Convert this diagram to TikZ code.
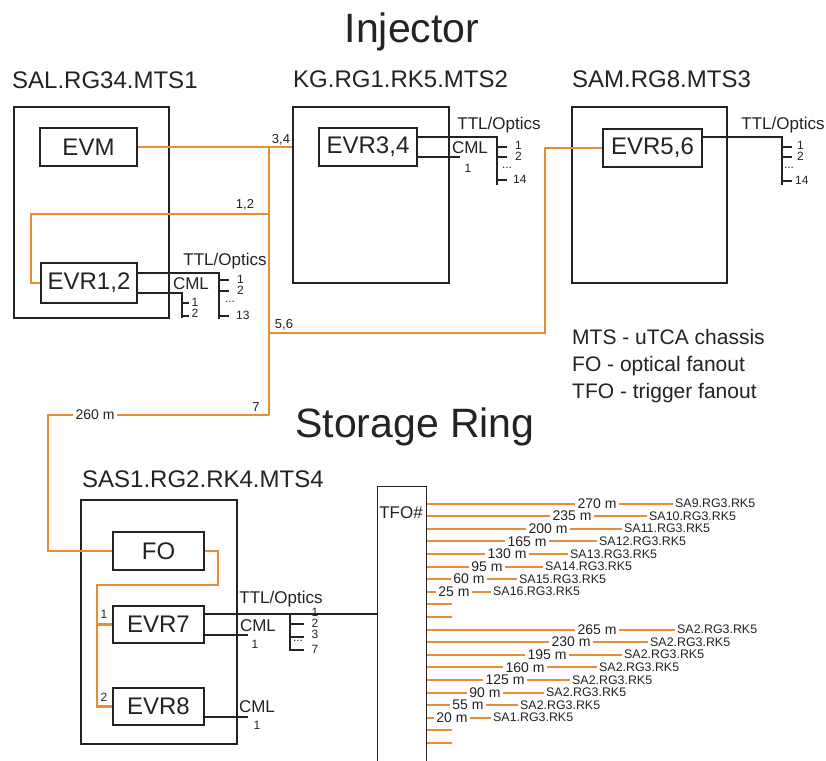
\documentclass[tikz,border=0pt]{standalone}
\usepackage{fontspec}
\setmainfont{Liberation Sans}
\definecolor{org}{RGB}{232,140,58}
\definecolor{ink}{RGB}{35,35,35}
\begin{document}
\begin{tikzpicture}[x=1pt,y=-1pt,
  every node/.style={text=ink},
  box/.style={draw=ink, line width=1.3pt, inner sep=0pt},
  card/.style={draw=ink, line width=1.3pt, inner sep=0pt, font=\fontsize{24}{28}\selectfont},
  fib/.style={draw=org, line width=2.6pt},
  fibrow/.style={draw=org, line width=2pt},
  wire/.style={draw=ink, line width=1.2pt},
  big/.style={font=\fontsize{41}{48}\selectfont, anchor=base},
  ttl/.style={font=\fontsize{24}{28}\selectfont, anchor=base west},
  lab/.style={font=\fontsize{17}{20}\selectfont, inner sep=0pt},
  num/.style={font=\fontsize{12}{14}\selectfont, inner sep=0pt},
  dist/.style={font=\fontsize{14}{16}\selectfont, inner xsep=2.5pt, inner ysep=0pt},
  nm/.style={font=\fontsize{12.4}{14}\selectfont, inner xsep=2pt, inner ysep=0pt, anchor=west},
  leg/.style={font=\fontsize{21}{25}\selectfont, anchor=base west, inner sep=0pt}]
\useasboundingbox (0,0) rectangle (826,760);
\fill[white] (0,0) rectangle (826,760);

% titles
\node[big] (inj) at (412,43) {Injector};
\node[big] (sr) at (415,437) {Storage Ring};
\node[ttl, inner sep=0pt] (t1n) at (12,88) {SAL.RG34.MTS1};
\node[ttl, inner sep=0pt] (t2n) at (293,87) {KG.RG1.RK5.MTS2};
\node[ttl, inner sep=0pt] (t3n) at (572,87) {SAM.RG8.MTS3};
\node[ttl, inner sep=0pt] (t4n) at (82,487) {SAS1.RG2.RK4.MTS4};

% chassis
\node[box, minimum width=155pt, minimum height=211pt] (mts1) at (91.5,212.5) {};
\node[box, minimum width=156pt, minimum height=176pt] (kg) at (371,195) {};
\node[box, minimum width=155pt, minimum height=176pt] (sam) at (649.5,195) {};
\node[box, minimum width=156pt, minimum height=244pt] (mts4) at (159,622) {};
\node[box, minimum width=49pt, minimum height=300pt, anchor=north west] (tfo) at (377,486) {};
\node[lab] (tfol) at (401,513) {TFO\#};

% cards
\node[card, minimum width=97pt, minimum height=38pt] (evm) at (88.5,147) {EVM};
\node[card, minimum width=96pt, minimum height=40pt] (evr12) at (89,283) {EVR1,2};
\node[card, minimum width=98pt, minimum height=38pt] (evr34) at (368,147) {EVR3,4};
\node[card, minimum width=99pt, minimum height=38pt] (evr56) at (652.5,148) {EVR5,6};
\node[card, minimum width=91pt, minimum height=38pt] (fo) at (158.5,551) {FO};
\node[card, minimum width=91pt, minimum height=37pt] (evr7) at (158.5,624.5) {EVR7};
\node[card, minimum width=91pt, minimum height=37pt] (evr8) at (158.5,706.5) {EVR8};

% fibre trunk
\coordinate (j1) at (269,147);
\coordinate (j2) at (269,214);
\coordinate (j3) at (269,333);
\coordinate (j4) at (269,415);
\draw[fib] (evm.east) -- (evm.east -| kg.west);
\draw[fib] (j1) -- (j4);
\draw[fib] (j2) -- (31,214) |- (evr12.west);
\draw[fib] (j3) -- (545,333) |- (evr56.west);
\node[dist] (len) at (95,415) {260 m};
\draw[fib] (j4) -- (len.east);
\draw[fib] (len.west) -- (48,415) |- (fo.west);
\draw[fib] (fo.east) -- (218,551) -- (218,585) -- (97,585) |- (evr8.west);
\draw[fib] (97,624.5) -- (evr7.west);
\node[num, font=\fontsize{13}{15}\selectfont] (p34) at (281,140) {3,4};
\node[num, font=\fontsize{13}{15}\selectfont] (p12) at (245,205) {1,2};
\node[num, font=\fontsize{13}{15}\selectfont] (p56) at (284,325) {5,6};
\node[num, font=\fontsize{13}{15}\selectfont] (p7) at (256,407) {7};
\node[num] (f1) at (104,614) {1};
\node[num] (f2) at (104,697) {2};

% EVR1,2 outputs
\node[lab] (ttl1) at (225,261) {TTL/Optics};
\draw[wire] (evr12.east |- 0,273) -- (219,273) -- (219,319);
\foreach \y in {280,291,316} \draw[wire] (219,\y) -- (229,\y);
\node[num, anchor=west] at (237,279) {1};
\node[num, anchor=west] at (237,290) {2};
\node[num] at (230,302) {...};
\node[num, anchor=west] at (236,315) {13};
\node[lab] (cml1) at (191,284) {CML};
\draw[wire] (evr12.east |- 0,293) -- (182,293) -- (182,318);
\foreach \y in {303,316} \draw[wire] (182,\y) -- (189,\y);
\node[num] at (195,302) {1};
\node[num] at (195,313) {2};

% EVR3,4 outputs
\node[lab] (ttl2) at (499,125) {TTL/Optics};
\draw[wire] (evr34.east |- 0,137) -- (497,137) -- (497,185);
\foreach \y in {147,157,180} \draw[wire] (497,\y) -- (507,\y);
\node[num, anchor=west] at (515,145) {1};
\node[num, anchor=west] at (515,156) {2};
\node[num] at (507,168) {...};
\node[num, anchor=west] at (513,179) {14};
\node[lab] (cml2) at (470,148) {CML};
\draw[wire] (evr34.east |- 0,157) -- (460,157);
\node[num] at (468,168) {1};

% EVR5,6 outputs
\node[lab] (ttl3) at (783,125) {TTL/Optics};
\draw[wire] (evr56.east |- 0,137) -- (782,137) -- (782,185);
\foreach \y in {147,157,181} \draw[wire] (782,\y) -- (792,\y);
\node[num, anchor=west] at (797,145) {1};
\node[num, anchor=west] at (797,156) {2};
\node[num] at (789,168) {...};
\node[num, anchor=west] at (795,180) {14};

% EVR7 outputs
\node[lab] (ttl4) at (281,599) {TTL/Optics};
\draw[wire] (evr7.east |- 0,614) -- (tfo.west |- 0,614);
\draw[wire] (290,614) -- (290,651);
\foreach \y in {624,637,650} \draw[wire] (290,\y) -- (304,\y);
\node[num] at (315,612) {1};
\node[num] at (315,623) {2};
\node[num] at (315,634) {3};
\node[num] at (298,641) {...};
\node[num] at (315,649) {7};
\node[lab] (cml4) at (258,626) {CML};
\draw[wire] (evr7.east |- 0,635) -- (248,635);
\node[num] at (255,644) {1};

% EVR8 outputs
\node[lab] (cml5) at (257,707) {CML};
\draw[wire] (evr8.east |- 0,717) -- (248,717);
\node[num] at (257,725) {1};

% TFO rows
\foreach \k/\d/\lc/\le/\nm in {0/270/597/673/SA9, 1/235/572/647/SA10, 2/200/548/622/SA11, 3/165/527/597/SA12, 4/130/507/568/SA13, 5/95/487/543/SA14, 6/60/469/517/SA15, 7/25/454/491/SA16, 10/265/597/675/SA2, 11/230/571/648/SA2, 12/195/547/622/SA2, 13/160/525/597/SA2, 14/125/505/570/SA2, 15/90/485/544/SA2, 16/55/468/518/SA2, 17/20/452/491/SA1}{
  \pgfmathsetmacro\yy{503.5+12.6*\k}
  \node[dist] (d\k) at (\lc,\yy) {\d{} m};
  \node[nm] (n\k) at (\le,\yy) {\nm.RG3.RK5};
  \draw[fibrow] (tfo.east |- d\k.west) -- (d\k.west);
  \draw[fibrow] (d\k.east) -- (n\k.west);
}
\foreach \k in {8,9,18,19}{
  \pgfmathsetmacro\yy{503.5+12.6*\k}
  \draw[fibrow] (tfo.east |- 0,\yy) -- ++(25,0);
}

% legend
\node[leg] (lg1) at (572,344) {MTS - uTCA chassis};
\node[leg] (lg2) at (572,371) {FO - optical fanout};
\node[leg] (lg3) at (572,398) {TFO - trigger fanout};
\end{tikzpicture}
\end{document}
